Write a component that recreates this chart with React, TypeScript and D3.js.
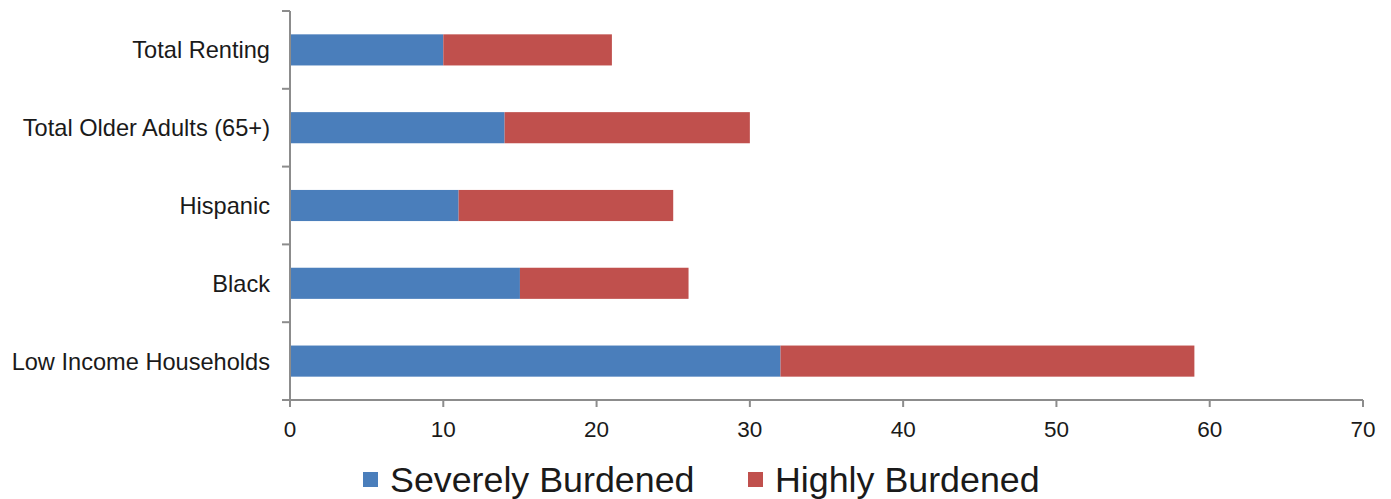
import React from "react";
import * as d3 from "d3";

const categories = ["Total Renting", "Total Older Adults (65+)", "Hispanic", "Black", "Low Income Households"];
const severelyBurdened = [10, 14, 11, 15, 32];
const highlyBurdened = [11, 16, 14, 11, 27];
const xTicks = [0, 10, 20, 30, 40, 50, 60, 70];
const seriesNames = ["Severely Burdened", "Highly Burdened"];
const seriesColors = ["#4A7EBB", "#C0504D"];

const W = 1391;
const H = 499;
const left = 290;
const right = 1363;
const top = 11;
const bottom = 400;

export default function App() {
  const x = d3.scaleLinear().domain([0, 70]).range([left, right]);
  const y = d3.scaleBand<string>().domain(categories).range([top, bottom]).padding(0);
  const bw = y.bandwidth();
  const barH = bw * 0.4;
  const boundaries = d3.range(categories.length + 1).map((i) => top + i * y.step());
  const font = "Liberation Sans, Arial, sans-serif";
  const axisColor = "#8c8c8c";

  return (
    <svg width={W} height={H} style={{ position: "absolute", left: 0, top: 0, background: "#fff" }}>
      {categories.map((c, i) => {
        const yc = (y(c) as number) + bw / 2;
        const s = severelyBurdened[i];
        const h = highlyBurdened[i];
        return (
          <g key={c}>
            <rect x={x(0)} y={yc - barH / 2} width={x(s) - x(0)} height={barH} fill={seriesColors[0]} />
            <rect x={x(s)} y={yc - barH / 2} width={x(s + h) - x(s)} height={barH} fill={seriesColors[1]} />
            <text x={270} y={yc} dy="0.36em" textAnchor="end" fontFamily={font} fontSize={23.6} fill="#1a1a1a">
              {c}
            </text>
          </g>
        );
      })}
      {/* y axis */}
      <line x1={left} x2={left} y1={top} y2={bottom} stroke={axisColor} strokeWidth={2} />
      {boundaries.map((b, i) => (
        <line key={i} x1={left - 8} x2={left} y1={b} y2={b} stroke={axisColor} strokeWidth={2} />
      ))}
      {/* x axis */}
      <line x1={left} x2={right} y1={bottom} y2={bottom} stroke={axisColor} strokeWidth={2} />
      {xTicks.map((t) => (
        <g key={t}>
          <line x1={x(t)} x2={x(t)} y1={bottom} y2={bottom + 7} stroke={axisColor} strokeWidth={2} />
          <text x={x(t)} y={437} textAnchor="middle" fontFamily={font} fontSize={22.5} fill="#1a1a1a">
            {t}
          </text>
        </g>
      ))}
      {/* legend */}
      {seriesNames.map((n, i) => {
        const lx = [363, 748][i];
        return (
          <g key={n}>
            <rect x={lx} y={472} width={15} height={15} fill={seriesColors[i]} />
            <text x={lx + 27} y={492} fontFamily={font} fontSize={35.8} fill="#1a1a1a">
              {n}
            </text>
          </g>
        );
      })}
    </svg>
  );
}
